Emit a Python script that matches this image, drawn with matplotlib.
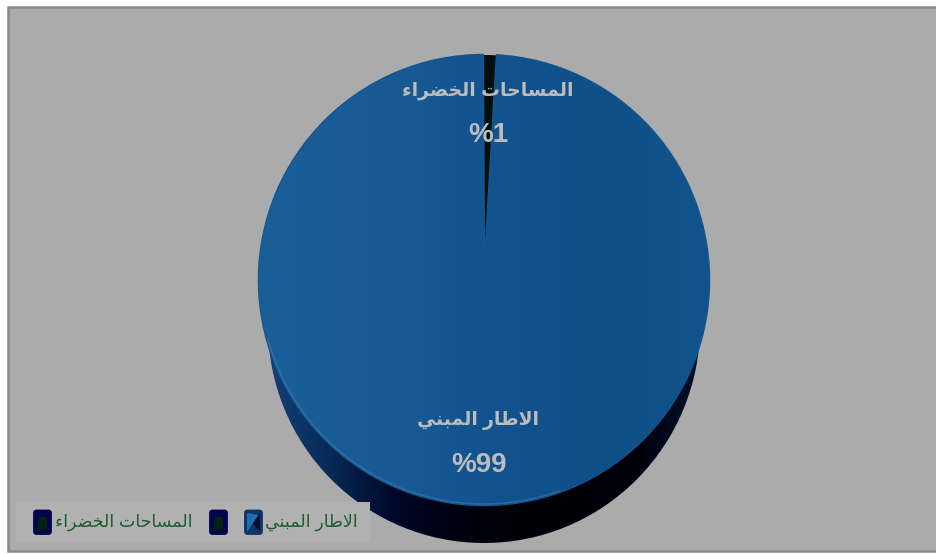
import numpy as np
import matplotlib
matplotlib.use("Agg")
import matplotlib.pyplot as plt
from matplotlib.colors import LinearSegmentedColormap
from matplotlib.patches import Arc, Ellipse, FancyBboxPatch, Polygon, Rectangle

# ============================================================
# DATA
# ============================================================

categories = ["الاطار المبني", "المساحات الخضراء"]
values = [99, 1]
value_labels = ["%99", "%1"]

# ============================================================
# ARABIC SHAPING (matplotlib does not join letters by itself)
# forms: isolated, final, initial, medial
# ============================================================

FORMS = {
    "ا": "\uFE8D\uFE8E", "ر": "\uFEAD\uFEAE", "ء": "\uFE80",
    "ب": "\uFE8F\uFE90\uFE91\uFE92", "ت": "\uFE95\uFE96\uFE97\uFE98",
    "ح": "\uFEA1\uFEA2\uFEA3\uFEA4", "خ": "\uFEA5\uFEA6\uFEA7\uFEA8",
    "س": "\uFEB1\uFEB2\uFEB3\uFEB4", "ض": "\uFEBD\uFEBE\uFEBF\uFEC0",
    "ط": "\uFEC1\uFEC2\uFEC3\uFEC4", "ل": "\uFEDD\uFEDE\uFEDF\uFEE0",
    "م": "\uFEE1\uFEE2\uFEE3\uFEE4", "ن": "\uFEE5\uFEE6\uFEE7\uFEE8",
    "ي": "\uFEF1\uFEF2\uFEF3\uFEF4",
}


def shape(text):
    out = []
    joined = False
    i = 0
    while i < len(text):
        ch = text[i]
        if ch not in FORMS:
            out.append(ch)
            joined = False
            i += 1
            continue
        # lam-alef ligature
        if ch == "ل" and text[i + 1:i + 2] == "ا":
            out.append("\uFEFC" if joined else "\uFEFB")
            joined = False
            i += 2
            continue
        nxt = text[i + 1:i + 2]
        can_next = len(FORMS[ch]) == 4 and nxt in FORMS
        if joined and can_next:
            form = 3
        elif joined:
            form = 1
        elif can_next:
            form = 2
        else:
            form = 0
        out.append(FORMS[ch][form])
        joined = can_next
        i += 1
    return "".join(out)[::-1]


# ============================================================
# FIGURE
# ============================================================

W, H = 937, 554
fig = plt.figure(figsize=(W / 100, H / 100), dpi=100, facecolor="white")
ax = fig.add_axes([0, 0, 1, 1])


def py(y):
    return H - y


BG = "#ababab"
ax.add_patch(Rectangle((8, py(551)), W + 20, 544, facecolor=BG, edgecolor="#8a8a8a", linewidth=1.8, zorder=0))

# Pie side (depth)
side_cmap = LinearSegmentedColormap.from_list(
    "side", ["#123f74", "#072a58", "#00092a", "#000010", "#000008", "#000008", "#00000c", "#01122e"]
)
side = Ellipse((484, py(326)), 432, 434, transform=ax.transData, facecolor="none", edgecolor="none", zorder=1)
ax.add_patch(side)
im = ax.imshow(
    np.linspace(0, 1, 256).reshape(1, -1), cmap=side_cmap, aspect="auto",
    extent=(268, 700, py(545), py(107)), zorder=1,
)
im.set_clip_path(side)

# Pie top
wedges, _ = ax.pie(
    values, startangle=90.3, center=(484, py(280)), radius=225,
    colors=["#14568f", "#020f0c"], frame=True,
    wedgeprops={"linewidth": 0},
)
# the blue outline also hides the thin tip of the small slice
wedges[0].set_edgecolor("#14568f")
wedges[0].set_linewidth(1.8)
wedges[0].set_zorder(3)
wedges[1].set_zorder(2.5)
top_cmap = LinearSegmentedColormap.from_list("top", ["#1b5f98", "#195c95", "#125390", "#0f4f88", "#11538c"])
top = ax.imshow(
    np.linspace(0, 1, 256).reshape(1, -1), cmap=top_cmap, aspect="auto",
    extent=(259, 709, py(505), py(55)), zorder=3.5,
)
top.set_clip_path(wedges[0])

ax.add_patch(Arc((484, py(280)), 448, 448, theta1=195, theta2=290, color="#3d7db3", lw=1.0, alpha=0.6, zorder=4))

# Labels on the pie
label_font = ["Liberation Sans", "DejaVu Sans"]
label_color = "#bcbcbc"
ax.text(488, py(91), shape(categories[1]), ha="center", va="center", fontsize=13.5,
        fontweight="bold", color=label_color, family=label_font, zorder=6)
ax.text(488, py(135), value_labels[1], ha="center", va="center", fontsize=20,
        fontweight="bold", color=label_color, family=label_font, zorder=6)
ax.text(478, py(421), shape(categories[0]), ha="center", va="center", fontsize=13.5,
        fontweight="bold", color=label_color, family=label_font, zorder=6)
ax.text(479, py(465), value_labels[0], ha="center", va="center", fontsize=20,
        fontweight="bold", color=label_color, family=label_font, zorder=6)

# Legend
ax.add_patch(Rectangle((15, py(542)), 355, 40, facecolor="#b1b1b1", edgecolor="none", zorder=7))
legend_color = "#1d5c2e"
ax.text(358, py(522), shape(categories[0]), ha="right", va="center", fontsize=12.5,
        color=legend_color, family=label_font, zorder=8)
ax.text(193, py(522), shape(categories[1]), ha="right", va="center", fontsize=12.5,
        color=legend_color, family=label_font, zorder=8)


def swatch(x, face):
    ax.add_patch(FancyBboxPatch((x + 1.5, py(533.5)), 16, 22.5, boxstyle="round,pad=0,rounding_size=2",
                                facecolor=face, edgecolor=face, linewidth=2, zorder=8))


swatch(33, "#02024e")
ax.add_patch(Rectangle((38, py(530)), 9, 13, facecolor="#04230f", edgecolor="none", zorder=9))
swatch(209, "#02024e")
ax.add_patch(Rectangle((214, py(530)), 9, 13, facecolor="#04230f", edgecolor="none", zorder=9))
# blue swatch with the bevelled centre
swatch(244, "#0c3566")
ax.add_patch(Polygon([(247, py(513)), (259, py(515)), (253, py(523)), (247, py(532))], facecolor="#1f6db3", zorder=9))
ax.add_patch(Polygon([(260, py(513)), (253, py(523)), (260, py(532))], facecolor="#010f2e", zorder=9))

ax.set_xlim(0, W)
ax.set_ylim(0, H)
ax.axis("off")

fig.savefig("out.png", dpi=100, facecolor="white")
